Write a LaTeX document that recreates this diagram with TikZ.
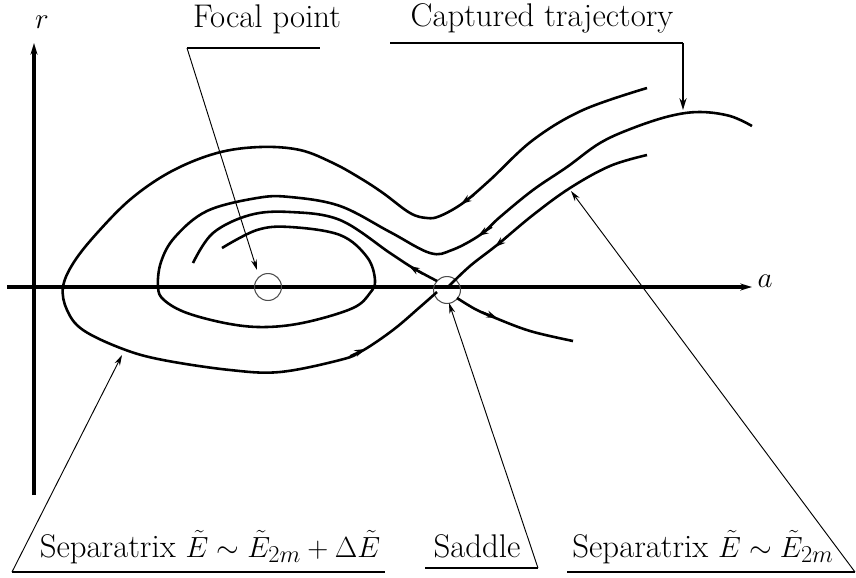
\documentclass[tikz,border=0pt]{standalone}
\usetikzlibrary{arrows.meta}
\begin{document}
\begin{tikzpicture}[x=0.03cm,y=-0.03cm,
  axis/.style={line width=3.2pt,-{Stealth[length=10pt,width=6pt]}},
  traj/.style={line width=2.2pt, line join=round},
  tipar/.style={line width=1.6pt,-{Stealth[length=9pt,width=6pt]}},
  leader/.style={line width=0.8pt,-{Stealth[length=9pt,width=5pt]}},
  uline/.style={line width=2.4pt},
  lbl/.style={font=\fontsize{28}{32}\selectfont, inner sep=0pt, anchor=base},
  pt/.style={circle, draw=black!70, line width=0.9pt, minimum size=23pt, inner sep=0pt}
]
\useasboundingbox (0,0) rectangle (856,577);

% axes
\coordinate (ax0) at (7,287);
\coordinate (ax1) at (752,287);
\coordinate (ay0) at (34,495);
\coordinate (ay1) at (34,43);
\draw[axis] (ax0) -- (ax1);
\draw[axis] (ay0) -- (ay1);
\node[lbl] (alab) at (765,287) {$a$};
\node[lbl] (rlab) at (42,28) {$r$};

% critical points
\node[pt] (fp) at (268,287) {};
\node[pt] (sp) at (447,290) {};

% curve A: outer separatrix
\draw[traj] plot[smooth, tension=0.6] coordinates {
 (647,88) (583,110) (533,140) (490,180) (463,203) (440,216) (427,218)
 (410,213) (383,193) (360,178) (333,163) (300,150) (260,147) (217,153)
 (172,171) (132,198) (98,232) (74,262) (63,287) (67,310) (83,330)
 (123,349) (163,360) (230,370) (280,372) (340,360) (362,351) (393,330)
 (420,307) (437,292)};

% curve B: captured trajectory (spiral)
\draw[traj] plot[smooth, tension=0.6] coordinates {
 (752,126) (730,116) (700,112) (670,116) (633,128) (600,143) (567,167)
 (533,190) (500,217) (480,235) (452,250) (430,253) (390,232) (340,206)
 (290,197) (257,198) (207,211) (175,237) (161,262) (158,287) (164,300)
 (187,313) (230,324) (267,327) (307,322) (353,308) (370,293) (375,280)
 (367,257) (340,235) (290,227) (257,230) (222,248)};

% curve C: separatrix into saddle
\draw[traj] plot[smooth, tension=0.6] coordinates {
 (647,155) (610,166) (570,188) (533,215) (497,245) (470,266) (448,287)};

% saddle upper-left branch
\draw[traj] plot[smooth, tension=0.6] coordinates {
 (437,281) (413,268) (390,253) (340,220) (290,212) (250,215) (213,233) (193,263)};

% saddle lower-right branch
\draw[traj] plot[smooth, tension=0.6] coordinates {
 (457,298) (475,309) (493,317) (530,331) (573,341)};

% arrows on curves
\coordinate (aA1) at (474,195); \coordinate (bA1) at (461,204);
\draw[tipar] (aA1) -- (bA1);
\coordinate (aB1) at (492,227); \coordinate (bB1) at (478,236);
\draw[tipar] (aB1) -- (bB1);
\coordinate (aC1) at (508,236); \coordinate (bC1) at (495,247);
\draw[tipar] (aC1) -- (bC1);
\coordinate (aS1) at (423,274); \coordinate (bS1) at (409,266);
\draw[tipar] (aS1) -- (bS1);
\coordinate (aA2) at (350,356); \coordinate (bA2) at (365,349);
\draw[tipar] (aA2) -- (bA2);
\coordinate (aR1) at (482,312); \coordinate (bR1) at (497,318);
\draw[tipar] (aR1) -- (bR1);

% labels with leaders
\node[lbl] (focal) at (267,27) {Focal point};
\coordinate (fL) at (187,48); \coordinate (fR) at (320,48);
\coordinate (fT) at (257,270);
\draw[uline] (fL) -- (fR);
\draw[leader] (fL) -- (fT);

\node[lbl] (capt) at (542,26) {Captured trajectory};
\coordinate (cL) at (390,43); \coordinate (cR) at (683,43);
\coordinate (cT) at (683,110);
\draw[line width=1.9pt] (cL) -- (cR);
\draw[line width=1.9pt,-{Stealth[length=10pt,width=6pt]}] (cR) -- (cT);

\node[lbl] (sepA) at (210,557) {Separatrix $\tilde E\sim\tilde E_{2m}+\Delta\tilde E$};
\coordinate (sAL) at (12,572); \coordinate (sAR) at (385,572);
\coordinate (sAT) at (122,355);
\draw[uline] (sAL) -- (sAR);
\draw[leader] (sAL) -- (sAT);

\node[lbl] (sad) at (477,557) {Saddle};
\coordinate (sdL) at (425,568); \coordinate (sdR) at (538,568);
\coordinate (sdT) at (449,303);
\draw[uline] (sdL) -- (sdR);
\draw[leader] (sdR) -- (sdT);

\node[lbl] (sepB) at (703,557) {Separatrix $\tilde E\sim\tilde E_{2m}$};
\coordinate (sBL) at (567,572); \coordinate (sBR) at (855,572);
\coordinate (sBT) at (571,191);
\draw[uline] (sBL) -- (sBR);
\draw[leader] (sBR) -- (sBT);
\end{tikzpicture}
\end{document}
